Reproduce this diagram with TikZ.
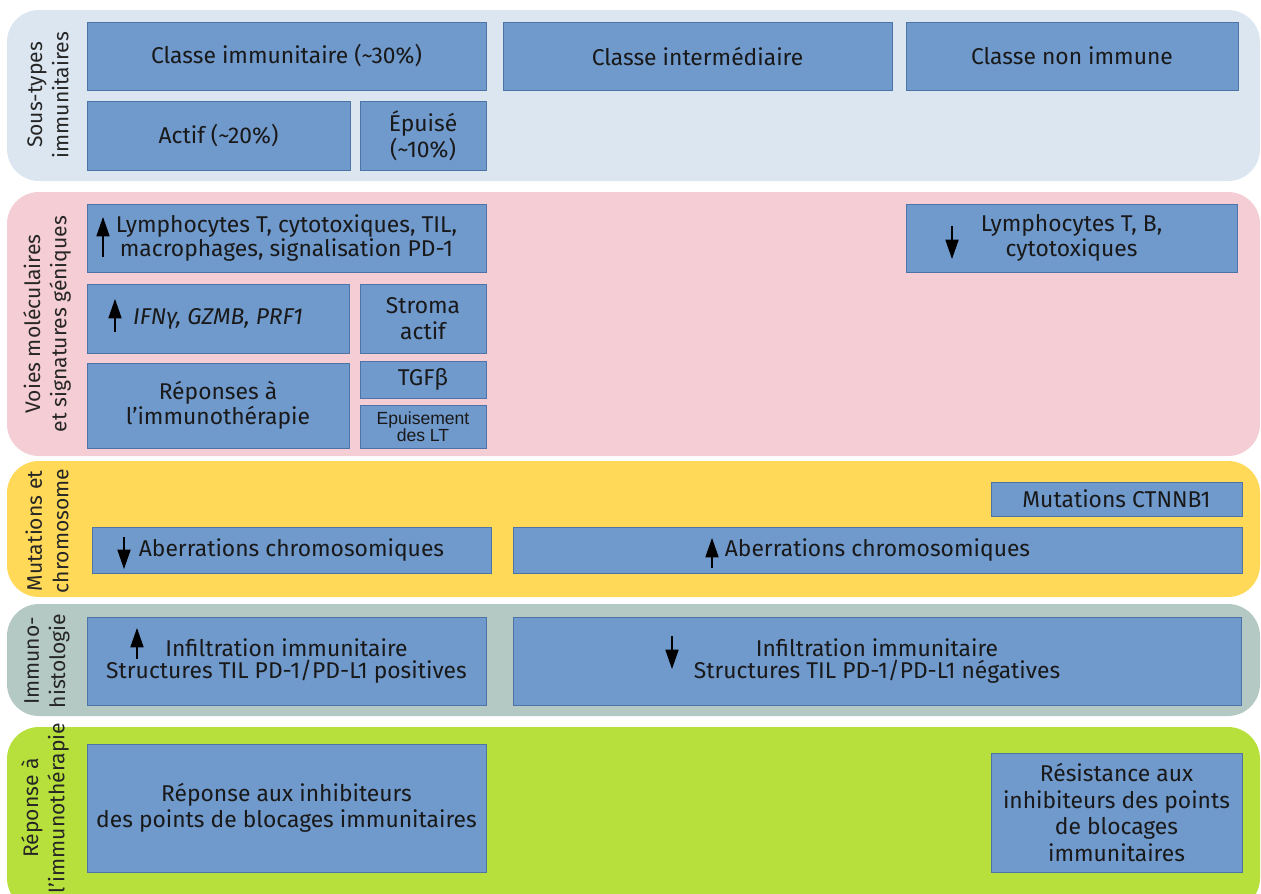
\documentclass[tikz,border=0pt]{standalone}
\usepackage{fontspec}
\setmainfont{Fira Sans}
\newfontfamily\arialfont{Liberation Sans}
\usetikzlibrary{arrows.meta}

\definecolor{fondsous}{HTML}{DCE6F0}
\definecolor{fondvoies}{HTML}{F5CDD4}
\definecolor{fondmut}{HTML}{FFD957}
\definecolor{fondhisto}{HTML}{B4C9C3}
\definecolor{fondrep}{HTML}{B8E03C}
\definecolor{boitefond}{HTML}{7099CC}
\definecolor{boitetrait}{HTML}{4E73A6}

\tikzset{
  bande/.style={rounded corners=0.64cm},
  boite/.style={draw=boitetrait, fill=boitefond, line width=0.5pt},
  texte/.style={align=center, text=black!90, font=\fontsize{13}{15}\selectfont},
  serre/.style={font=\fontsize{13}{12.4}\selectfont},
  titre/.style={rotate=90, align=center, text=black!85, font=\fontsize{12}{15}\selectfont},
  hausse/.style={line width=0.6pt, -{Triangle[width=7.5pt,length=11pt]}},
}

\begin{document}
\begin{tikzpicture}[x=0.02cm, y=-0.02cm]
  \clip (0,0) rectangle (1261,893);

  % bandes de fond
  \fill[fondsous, bande] (7,10) rectangle (1260,181);
  \fill[fondvoies, bande] (7,192) rectangle (1260,456);
  \fill[fondmut, bande] (7,461) rectangle (1260,597);
  \fill[fondhisto, bande] (7,604) rectangle (1260,716);
  \fill[fondrep, bande] (7,727) rectangle (1260,910);

  % titres des bandes
  \node[titre] (lsous) at (48,95) {Sous-types\\immunitaires};
  \node[titre] (lvoies) at (47,324) {Voies moléculaires\\et signatures géniques};
  \node[titre] (lmut) at (47,531) {Mutations et\\chromosome};
  \node[titre] (lhisto) at (47,661) {Immuno-\\histologie};
  \node[titre] (lrep) at (45,808) {Réponse à\\l’immunothérapie};

  % sous-types
  \draw[boite] (87,22) rectangle (486,90) node[midway, texte] (cimm) {Classe immunitaire (\textasciitilde30\%)};
  \draw[boite] (503,22) rectangle (892,90) node[midway, texte] (cinter) {Classe intermédiaire};
  \draw[boite] (906,22) rectangle (1238,90) node[midway, texte] (cnon) {Classe non immune};
  \draw[boite] (87,101) rectangle (350,170) node[midway, texte] (actif) {Actif (\textasciitilde20\%)};
  \draw[boite] (360,101) rectangle (486,170) node[midway, texte] (epuise) {Épuisé\\(\textasciitilde10\%)};

  % voies moleculaires
  \draw[boite] (87,204) rectangle (486,272) node[midway, texte, serre] (lymT) {Lymphocytes T, cytotoxiques, TIL,\\macrophages, signalisation PD-1};
  \draw[boite] (906,204) rectangle (1237,272) node[midway, texte, serre] (lymTB) {Lymphocytes T, B,\\cytotoxiques};
  \draw[boite] (87,284) rectangle (349,353) node[midway, texte] (ifn) {\itshape IFNγ, GZMB, PRF1};
  \draw[boite] (360,284) rectangle (486,353) node[midway, texte] (stroma) {Stroma\\actif};
  \draw[boite] (87,363) rectangle (349,448) node[midway, texte, serre] (reponses) {Réponses à\\l’immunothérapie};
  \draw[boite] (360,361) rectangle (486,398) node[midway, texte] (tgf) {TGFβ};
  \draw[boite] (360,405) rectangle (486,448) node[midway, texte, font=\arialfont\fontsize{10}{9.5}\selectfont] (epuislt) {Epuisement\\des LT};
  \draw[hausse] (103,257) -- (103,217);
  \draw[hausse] (115,332) -- (115,299);
  \draw[hausse] (952,226) -- (952,259);

  % mutations
  \draw[boite] (991,482) rectangle (1242,516) node[midway, texte] (ctnnb) {Mutations CTNNB1};
  \draw[boite] (92,527) rectangle (491,573) node[midway, texte] (aberrbas) {Aberrations chromosomiques};
  \draw[boite] (513,527) rectangle (1242,573) node[midway, texte] (aberrhaut) {Aberrations chromosomiques};
  \draw[hausse] (124,537) -- (124,569);
  \draw[hausse] (712,568) -- (712,538);

  % immunohistologie
  \draw[boite] (87,617) rectangle (486,705) node[midway, texte, serre] (infpos) {Infiltration immunitaire\\Structures TIL PD-1/PD-L1 positives};
  \draw[boite] (513,617) rectangle (1241,705) node[midway, texte, serre] (infneg) {Infiltration immunitaire\\Structures TIL PD-1/PD-L1 négatives};
  \draw[hausse] (137,659) -- (137,628);
  \draw[hausse] (672,636) -- (672,669);

  % reponse
  \draw[boite] (87,744) rectangle (486,872) node[midway, texte] (repinhib) {Réponse aux inhibiteurs\\des points de blocages immunitaires};
  \draw[boite] (991,753) rectangle (1242,872) node[midway, texte] (resist) {Résistance aux\\inhibiteurs des points\\de blocages\\immunitaires};
\end{tikzpicture}
\end{document}
